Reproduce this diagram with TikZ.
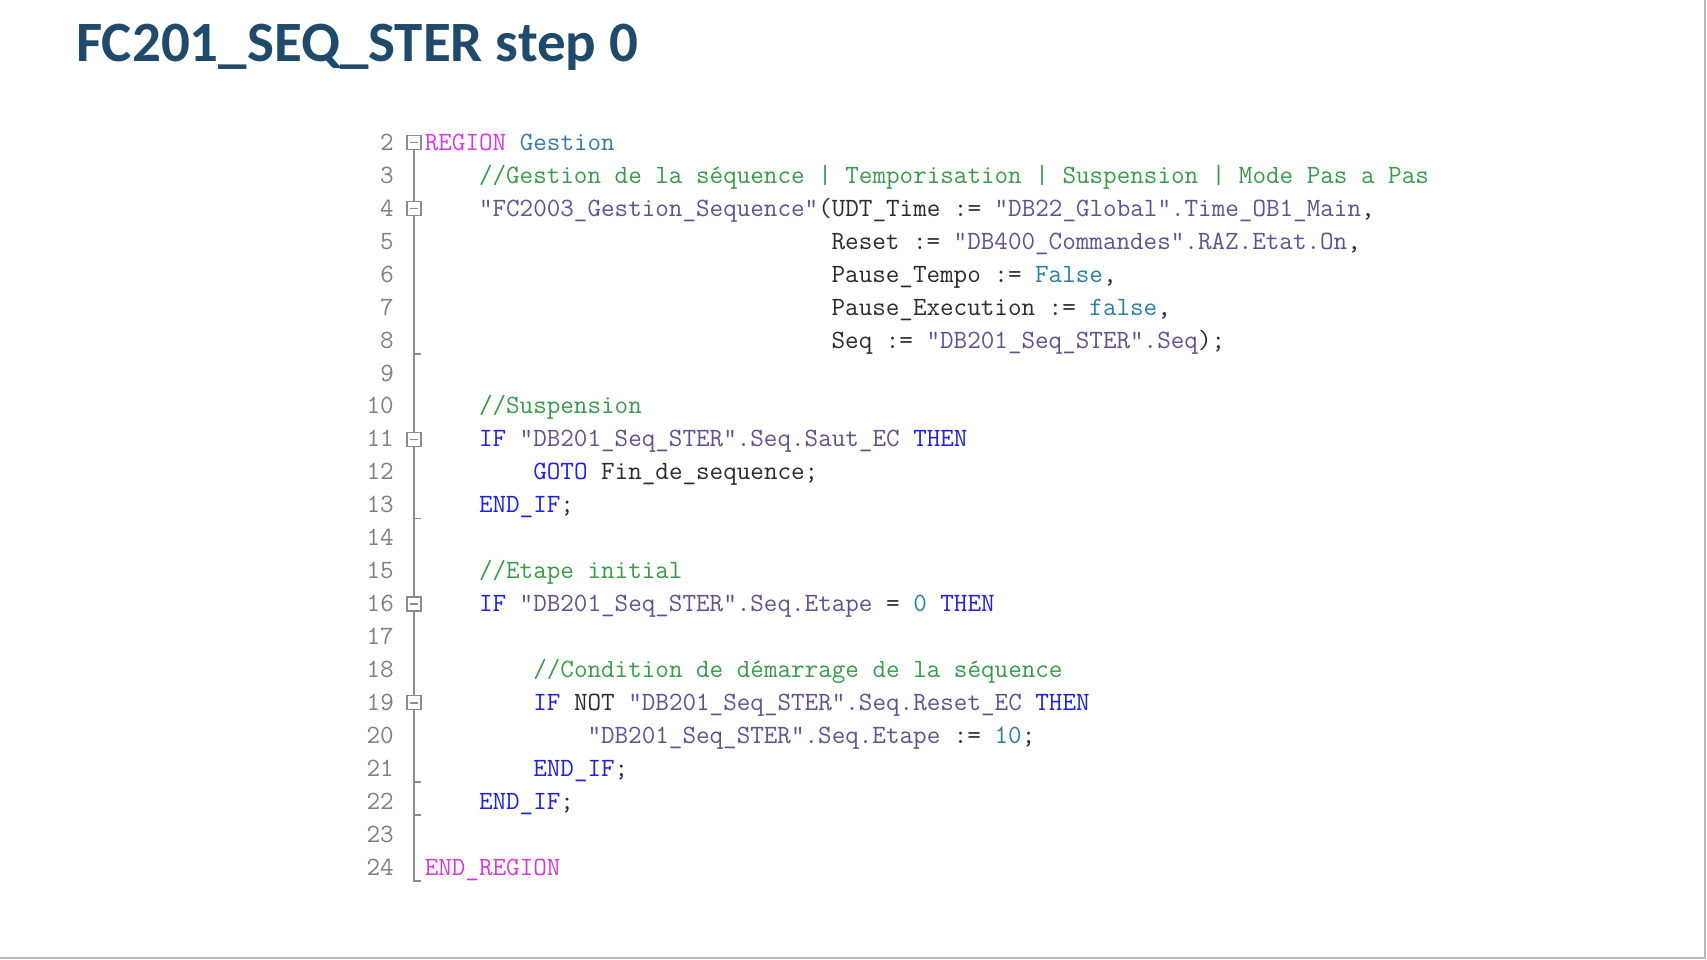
\documentclass[tikz,border=0pt]{standalone}
\usepackage{fontspec}
\setsansfont{Carlito}
\definecolor{titleblue}{HTML}{1F4A6B}
\definecolor{codedark}{HTML}{2B2B2B}
\definecolor{numgray}{HTML}{808080}
\definecolor{guttergray}{HTML}{8C8C8C}
\definecolor{regionpink}{HTML}{D63ADE}
\definecolor{namesteel}{HTML}{3A78A8}
\definecolor{commentgreen}{HTML}{3A9A4A}
\definecolor{tagpurple}{HTML}{65508F}
\definecolor{kwblue}{HTML}{2020E0}
\definecolor{litteal}{HTML}{2C7FA0}
\newcommand{\coderegion}[1]{\textcolor{regionpink}{#1}}
\newcommand{\codename}[1]{\textcolor{namesteel}{#1}}
\newcommand{\codecmt}[1]{\textcolor{commentgreen}{#1}}
\newcommand{\codetag}[1]{\textcolor{tagpurple}{#1}}
\newcommand{\codekw}[1]{\textcolor{kwblue}{#1}}
\newcommand{\codelit}[1]{\textcolor{litteal}{#1}}
\begin{document}
\begin{tikzpicture}[x=1pt,y=-1pt,
        title/.style={anchor=base west,inner sep=0,text=titleblue,font=\sffamily\bfseries\fontsize{57}{60}\selectfont},
        code/.style={anchor=base west,inner sep=0,text=codedark,font=\ttfamily\fontsize{26.35}{28}\selectfont},
        lnum/.style={anchor=base east,inner sep=0,text=numgray,font=\ttfamily\fontsize{26.35}{28}\selectfont},
        gutter/.style={guttergray,line width=1.4},
        fold/.style={draw=guttergray,line width=1.2,fill=white,rectangle,minimum size=14,inner sep=0,
            path picture={\draw[gutter] ([xshift=-4pt]path picture bounding box.center) -- ([xshift=4pt]path picture bounding box.center);}}]
        \useasboundingbox[fill=white] (0,0) rectangle (1707,960);
        \draw[gray!55,line width=2.5] (1705,0) -- (1705,958) -- (0,958);
        \node[title] at (76,62) (title) {FC201\_SEQ\_STER step 0};
        % line numbers
        \node[lnum] at (394,150.3) (n2) {2};
        \node[lnum] at (394,183.3) (n3) {3};
        \node[lnum] at (394,216.2) (n4) {4};
        \node[lnum] at (394,249.2) (n5) {5};
        \node[lnum] at (394,282.1) (n6) {6};
        \node[lnum] at (394,315.1) (n7) {7};
        \node[lnum] at (394,348.0) (n8) {8};
        \node[lnum] at (394,381.0) (n9) {9};
        \node[lnum] at (394,413.9) (n10) {10};
        \node[lnum] at (394,446.9) (n11) {11};
        \node[lnum] at (394,479.8) (n12) {12};
        \node[lnum] at (394,512.8) (n13) {13};
        \node[lnum] at (394,545.7) (n14) {14};
        \node[lnum] at (394,578.7) (n15) {15};
        \node[lnum] at (394,611.6) (n16) {16};
        \node[lnum] at (394,644.6) (n17) {17};
        \node[lnum] at (394,677.5) (n18) {18};
        \node[lnum] at (394,710.5) (n19) {19};
        \node[lnum] at (394,743.4) (n20) {20};
        \node[lnum] at (394,776.4) (n21) {21};
        \node[lnum] at (394,809.3) (n22) {22};
        \node[lnum] at (394,842.3) (n23) {23};
        \node[lnum] at (394,875.2) (n24) {24};
        % fold gutter
        \node[fold] at (414,142.6) (f2) {};
        \node[fold] at (414,208.5) (f4) {};
        \node[fold] at (414,439.2) (f11) {};
        \node[fold] at (414,603.9) (f16) {};
        \node[fold] at (414,702.8) (f19) {};
        \coordinate (e8) at (414,353.8);
        \coordinate (e13) at (414,518.5);
        \coordinate (e21) at (414,782);
        \coordinate (e22) at (414,815);
        \coordinate (e24) at (414,881);
        \draw[gutter] (f2) -- (f4);
        \draw[gutter] (f4) -- (f11);
        \draw[gutter] (f11) -- (f16);
        \draw[gutter] (f16) -- (f19);
        \draw[gutter] (f19) -- (e24) -- ++(7,0);
        \draw[gutter] (e8) -- ++(7,0);
        \draw[gutter] (e13) -- ++(7,0);
        \draw[gutter] (e21) -- ++(7,0);
        \draw[gutter] (e22) -- ++(7,0);
        % code
        \node[code] at (424.6,150.3) (l2) {\coderegion{REGION} \codename{Gestion}};
        \node[code] at (478.8,183.3) (l3) {\codecmt{//Gestion de la séquence | Temporisation | Suspension | Mode Pas a Pas}};
        \node[code] at (478.8,216.2) (l4) {\codetag{"FC2003\_Gestion\_Sequence"}(UDT\_Time := \codetag{"DB22\_Global".Time\_OB1\_Main},};
        \node[code] at (831.4,249.2) (l5) {Reset := \codetag{"DB400\_Commandes".RAZ.Etat.On},};
        \node[code] at (831.4,282.1) (l6) {Pause\_Tempo := \codelit{False},};
        \node[code] at (831.4,315.1) (l7) {Pause\_Execution := \codelit{false},};
        \node[code] at (831.4,348.0) (l8) {Seq := \codetag{"DB201\_Seq\_STER".Seq});};
        \node[code] at (478.8,413.9) (l10) {\codecmt{//Suspension}};
        \node[code] at (478.8,446.9) (l11) {\codekw{IF} \codetag{"DB201\_Seq\_STER".Seq.Saut\_EC} \codekw{THEN}};
        \node[code] at (533.1,479.8) (l12) {\codekw{GOTO} Fin\_de\_sequence;};
        \node[code] at (478.8,512.8) (l13) {\codekw{END\_IF};};
        \node[code] at (478.8,578.7) (l15) {\codecmt{//Etape initial}};
        \node[code] at (478.8,611.6) (l16) {\codekw{IF} \codetag{"DB201\_Seq\_STER".Seq.Etape} = \codelit{0} \codekw{THEN}};
        \node[code] at (533.1,677.5) (l18) {\codecmt{//Condition de démarrage de la séquence}};
        \node[code] at (533.1,710.5) (l19) {\codekw{IF} NOT \codetag{"DB201\_Seq\_STER".Seq.Reset\_EC} \codekw{THEN}};
        \node[code] at (587.3,743.4) (l20) {\codetag{"DB201\_Seq\_STER".Seq.Etape} := \codelit{10};};
        \node[code] at (533.1,776.4) (l21) {\codekw{END\_IF};};
        \node[code] at (478.8,809.3) (l22) {\codekw{END\_IF};};
        \node[code] at (424.6,875.2) (l24) {\coderegion{END\_REGION}};
    \end{tikzpicture}
\end{document}
